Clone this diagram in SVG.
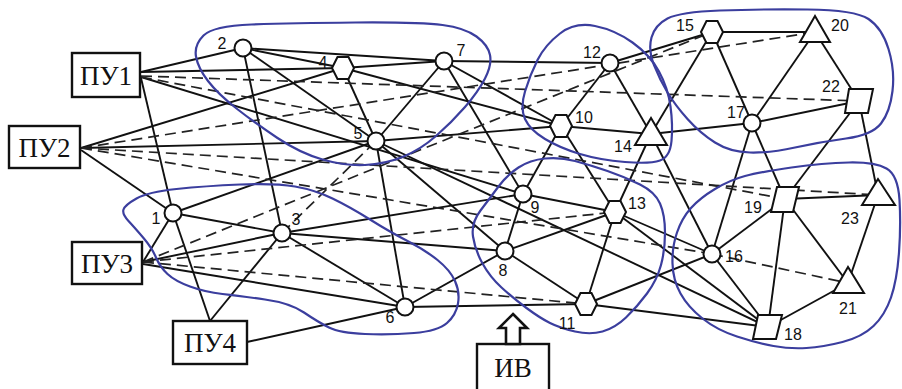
<svg xmlns="http://www.w3.org/2000/svg" xmlns:xlink="http://www.w3.org/1999/xlink" width="902" height="389" viewBox="0 0 902 389">
<style>
.e{stroke:#111;stroke-width:1.9;fill:none}
.d{stroke:#222;stroke-width:1.7;stroke-dasharray:11 6;fill:none}
.cl{stroke:#3b3e9e;stroke-width:2.2;fill:none;stroke-linejoin:round}
.nd{fill:#fff;stroke:#111;stroke-width:2}
.box{fill:#fff;stroke:#111;stroke-width:2.4}
.lbl{font-family:"Liberation Sans",Arial,sans-serif;font-size:16px;fill:#111;text-anchor:middle}
.pu{font-family:"Liberation Serif","Times New Roman",serif;font-size:27px;fill:#111;text-anchor:middle}
</style>
<defs>
<polygon id="hex" points="-11,0 -5.5,-11 5.5,-11 11,0 5.5,11 -5.5,11"/>
</defs>
<rect width="902" height="389" fill="#fff"/>
<g id="connectors">
<line class="e" x1="141" y1="72" x2="243" y2="48"/>
<line class="e" x1="141" y1="72" x2="343" y2="68"/>
<line class="e" x1="141" y1="78" x2="173" y2="213"/>
<line class="e" x1="141" y1="77" x2="523" y2="194"/>
<line class="e" x1="81" y1="148" x2="343" y2="68"/>
<line class="e" x1="81" y1="148" x2="376" y2="141"/>
<line class="e" x1="81" y1="150" x2="173" y2="213"/>
<line class="e" x1="143" y1="262" x2="173" y2="213"/>
<line class="e" x1="143" y1="262" x2="282" y2="233"/>
<line class="e" x1="143" y1="264" x2="405" y2="307"/>
<line class="e" x1="210" y1="321" x2="173" y2="213"/>
<line class="e" x1="210" y1="321" x2="282" y2="233"/>
<line class="e" x1="247" y1="342" x2="405" y2="307"/>
<line class="e" x1="243" y1="48" x2="444" y2="61"/>
<line class="e" x1="243" y1="48" x2="343" y2="68"/>
<line class="e" x1="243" y1="48" x2="376" y2="141"/>
<line class="e" x1="243" y1="48" x2="282" y2="233"/>
<line class="e" x1="343" y1="68" x2="444" y2="61"/>
<line class="e" x1="343" y1="68" x2="561" y2="126"/>
<line class="e" x1="343" y1="68" x2="376" y2="141"/>
<line class="e" x1="444" y1="61" x2="610" y2="63"/>
<line class="e" x1="444" y1="61" x2="561" y2="126"/>
<line class="e" x1="444" y1="61" x2="376" y2="141"/>
<line class="e" x1="444" y1="61" x2="523" y2="194"/>
<line class="e" x1="376" y1="141" x2="561" y2="126"/>
<line class="e" x1="376" y1="141" x2="505" y2="251"/>
<line class="e" x1="376" y1="141" x2="405" y2="307"/>
<line class="e" x1="376" y1="141" x2="173" y2="213"/>
<line class="e" x1="376" y1="141" x2="768" y2="327" stroke-width="1.4"/>
<line class="e" x1="173" y1="213" x2="282" y2="233"/>
<line class="e" x1="282" y1="233" x2="505" y2="251"/>
<line class="e" x1="282" y1="233" x2="523" y2="194"/>
<line class="e" x1="282" y1="233" x2="405" y2="307"/>
<line class="e" x1="405" y1="307" x2="505" y2="251"/>
<line class="e" x1="405" y1="307" x2="586" y2="304"/>
<line class="e" x1="505" y1="251" x2="523" y2="194"/>
<line class="e" x1="505" y1="251" x2="615" y2="212"/>
<line class="e" x1="505" y1="251" x2="586" y2="304"/>
<line class="e" x1="523" y1="194" x2="561" y2="126"/>
<line class="e" x1="523" y1="194" x2="615" y2="212"/>
<line class="e" x1="561" y1="126" x2="610" y2="63"/>
<line class="e" x1="561" y1="126" x2="651" y2="134"/>
<line class="e" x1="561" y1="126" x2="615" y2="212"/>
<line class="e" x1="610" y1="63" x2="712" y2="32"/>
<line class="e" x1="610" y1="63" x2="651" y2="134"/>
<line class="e" x1="651" y1="134" x2="712" y2="32"/>
<line class="e" x1="651" y1="134" x2="752" y2="123"/>
<line class="e" x1="651" y1="134" x2="615" y2="212"/>
<line class="e" x1="651" y1="134" x2="712" y2="254"/>
<line class="e" x1="712" y1="32" x2="815" y2="32"/>
<line class="e" x1="712" y1="32" x2="752" y2="123"/>
<line class="e" x1="752" y1="123" x2="785" y2="199"/>
<line class="e" x1="752" y1="123" x2="815" y2="32"/>
<line class="e" x1="752" y1="123" x2="859" y2="101"/>
<line class="e" x1="752" y1="123" x2="712" y2="254"/>
<line class="e" x1="815" y1="32" x2="859" y2="101"/>
<line class="e" x1="859" y1="101" x2="785" y2="199"/>
<line class="e" x1="859" y1="101" x2="878" y2="195"/>
<line class="e" x1="785" y1="199" x2="878" y2="195"/>
<line class="e" x1="785" y1="199" x2="712" y2="254"/>
<line class="e" x1="785" y1="199" x2="768" y2="327"/>
<line class="e" x1="785" y1="199" x2="848" y2="283"/>
<line class="e" x1="848" y1="283" x2="878" y2="195"/>
<line class="e" x1="848" y1="283" x2="768" y2="327"/>
<line class="e" x1="712" y1="254" x2="615" y2="212"/>
<line class="e" x1="712" y1="254" x2="586" y2="304"/>
<line class="e" x1="712" y1="254" x2="768" y2="327"/>
<line class="e" x1="615" y1="212" x2="586" y2="304"/>
<line class="e" x1="615" y1="212" x2="768" y2="327"/>
<line class="e" x1="586" y1="304" x2="768" y2="327"/>
<line class="d" x1="141" y1="76" x2="859" y2="101"/>
<line class="d" x1="141" y1="77" x2="785" y2="199"/>
<line class="d" x1="81" y1="148" x2="815" y2="32"/>
<line class="d" x1="81" y1="148" x2="878" y2="195"/>
<line class="d" x1="81" y1="148" x2="712" y2="254"/>
<line class="d" x1="712" y1="254" x2="848" y2="283"/>
<line class="d" x1="143" y1="262" x2="712" y2="32"/>
<line class="d" x1="143" y1="262" x2="615" y2="212"/>
<line class="d" x1="143" y1="262" x2="586" y2="304"/>
<line class="d" x1="282" y1="233" x2="376" y2="141"/>
</g>
<g id="clusters">
<path class="cl" d="M 251.5,24.5 Q 290,23 355,22.5 Q 420,22 442.5,25 Q 465,28 476.5,36.5 Q 488,45 490,55 Q 492,65 485,78.5 Q 478,92 465,107 Q 452,122 436,136 Q 420,150 402.5,157 Q 385,164 365,165 Q 345,166 322.5,159.5 Q 300,153 277.5,138 Q 255,123 236.5,108.5 Q 218,94 208,81 Q 198,68 196,56.5 Q 194,45 203.5,35.5 Q 213,26 251.5,24.5 Z"/>
<path class="cl" d="M 595,26 Q 615,30 632.5,42.5 Q 650,55 659,71.5 Q 668,88 670.5,106.5 Q 673,125 671.5,141 Q 670,157 660,160.5 Q 650,164 625,162 Q 600,160 580,154 Q 560,148 545,139 Q 530,130 525,119 Q 520,108 525,91.5 Q 530,75 537.5,60 Q 545,45 560,33.5 Q 575,22 595,26 Z"/>
<path class="cl" d="M 667.5,18.5 Q 680,12 720,10.5 Q 760,9 807.5,9.5 Q 855,10 868.5,19 Q 882,28 888.5,49 Q 895,70 892.5,91 Q 890,112 881,123.5 Q 872,135 846,138.5 Q 820,142 795,147.5 Q 770,153 750,152.5 Q 730,152 715,142.5 Q 700,133 687.5,119 Q 675,105 667.5,92.5 Q 660,80 654,65 Q 648,50 651.5,37.5 Q 655,25 667.5,18.5 Z"/>
<path class="cl" d="M 136.5,198.5 Q 148,192 176.5,189 Q 205,186 240,184.5 Q 275,183 295,186.5 Q 315,190 332.5,198.5 Q 350,207 370,219.5 Q 390,232 407.5,241 Q 425,250 437.5,260 Q 450,270 455,281 Q 460,292 458,303.5 Q 456,315 447,323 Q 438,331 414,333 Q 390,335 365,334 Q 340,333 329,327.5 Q 318,322 304,312.5 Q 290,303 265,299.5 Q 240,296 222.5,294 Q 205,292 190,286.5 Q 175,281 167.5,274 Q 160,267 156,257.5 Q 152,248 143.5,238 Q 135,228 128.5,221 Q 122,214 123.5,209.5 Q 125,205 136.5,198.5 Z"/>
<path class="cl" d="M 498.5,186.5 Q 507,175 518.5,167.5 Q 530,160 545,158.5 Q 560,157 575,161 Q 590,165 607.5,171 Q 625,177 640,184.5 Q 655,192 660,203.5 Q 665,215 665,232.5 Q 665,250 661,265 Q 657,280 647,293.5 Q 637,307 626,317.5 Q 615,328 602.5,331.5 Q 590,335 575,331.5 Q 560,328 550,323 Q 540,318 526.5,308 Q 513,298 501.5,287.5 Q 490,277 482.5,263.5 Q 475,250 473,236.5 Q 471,223 480.5,210.5 Q 490,198 498.5,186.5 Z"/>
<path class="cl" d="M 715,189 Q 730,180 745,176 Q 760,172 791.5,167.5 Q 823,163 849,162.5 Q 875,162 886.5,168.5 Q 898,175 899.5,200 Q 901,225 899,252.5 Q 897,280 891,297.5 Q 885,315 873.5,326 Q 862,337 842.5,342 Q 823,347 806.5,348 Q 790,349 773.5,346 Q 757,343 737,336.5 Q 717,330 702.5,318.5 Q 688,307 680.5,293.5 Q 673,280 672.5,263.5 Q 672,247 677,232.5 Q 682,218 691,208 Q 700,198 715,189 Z"/>
</g>
<g id="PU1"><rect class="box" x="72" y="53" width="68" height="44"/><text class="pu" x="106" y="85">ПУ1</text></g>
<g id="PU2"><rect class="box" x="9" y="126" width="71" height="42"/><text class="pu" x="44.5" y="157">ПУ2</text></g>
<g id="PU3"><rect class="box" x="72" y="242" width="70" height="42"/><text class="pu" x="107" y="273">ПУ3</text></g>
<g id="PU4"><rect class="box" x="173" y="321" width="74" height="43"/><text class="pu" x="210" y="352">ПУ4</text></g>
<g id="IV"><rect class="box" x="477" y="344" width="72" height="52"/><text class="pu" x="513" y="377">ИВ</text>
<polygon points="513,314 527,328 520,328 520,344 506,344 506,328 499,328" fill="#fff" stroke="#111" stroke-width="2.6" stroke-linejoin="miter"/></g>
<g id="n1"><circle class="nd" cx="173" cy="213" r="8.5"/><text class="lbl" x="156" y="224">1</text></g>
<g id="n2"><circle class="nd" cx="243" cy="48" r="8.5"/><text class="lbl" x="222" y="49">2</text></g>
<g id="n3"><circle class="nd" cx="282" cy="233" r="8.5"/><text class="lbl" x="296" y="225">3</text></g>
<g id="n4"><use xlink:href="#hex" href="#hex" class="nd" transform="translate(343,68)"/><text class="lbl" x="323" y="68">4</text></g>
<g id="n5"><circle class="nd" cx="376" cy="141" r="8.5"/><text class="lbl" x="358" y="139">5</text></g>
<g id="n6"><circle class="nd" cx="405" cy="307" r="8.5"/><text class="lbl" x="390" y="323">6</text></g>
<g id="n7"><circle class="nd" cx="444" cy="61" r="8.5"/><text class="lbl" x="461" y="56">7</text></g>
<g id="n8"><circle class="nd" cx="505" cy="251" r="8.5"/><text class="lbl" x="503" y="276">8</text></g>
<g id="n9"><circle class="nd" cx="523" cy="194" r="8.5"/><text class="lbl" x="535" y="213">9</text></g>
<g id="n10"><use xlink:href="#hex" href="#hex" class="nd" transform="translate(561,126)"/><text class="lbl" x="584" y="123">10</text></g>
<g id="n11"><use xlink:href="#hex" href="#hex" class="nd" transform="translate(586,304)"/><text class="lbl" x="567" y="329">11</text></g>
<g id="n12"><circle class="nd" cx="610" cy="63" r="8.5"/><text class="lbl" x="592" y="58">12</text></g>
<g id="n13"><use xlink:href="#hex" href="#hex" class="nd" transform="translate(615,212)"/><text class="lbl" x="637" y="209">13</text></g>
<g id="n14"><polygon class="nd" points="651,118 635,145 667,145"/><text class="lbl" x="623" y="152">14</text></g>
<g id="n15"><use xlink:href="#hex" href="#hex" class="nd" transform="translate(712,32)"/><text class="lbl" x="685" y="31">15</text></g>
<g id="n16"><circle class="nd" cx="712" cy="254" r="8.5"/><text class="lbl" x="734" y="262">16</text></g>
<g id="n17"><circle class="nd" cx="752" cy="123" r="8.5"/><text class="lbl" x="736" y="118">17</text></g>
<g id="n18"><polygon class="nd" points="758,315 782,315 776,339 753,339"/><text class="lbl" x="793" y="340">18</text></g>
<g id="n19"><polygon class="nd" points="777,187 799,187 793,212 771,212"/><text class="lbl" x="753" y="213">19</text></g>
<g id="n20"><polygon class="nd" points="815,16 800,42 830,42"/><text class="lbl" x="840" y="31">20</text></g>
<g id="n21"><polygon class="nd" points="848,267 833,293 864,293"/><text class="lbl" x="848" y="314">21</text></g>
<g id="n22"><polygon class="nd" points="849,89 873,89 868,113 845,113"/><text class="lbl" x="831" y="92">22</text></g>
<g id="n23"><polygon class="nd" points="878,179 862,205 895,205"/><text class="lbl" x="850" y="224">23</text></g>
</svg>
